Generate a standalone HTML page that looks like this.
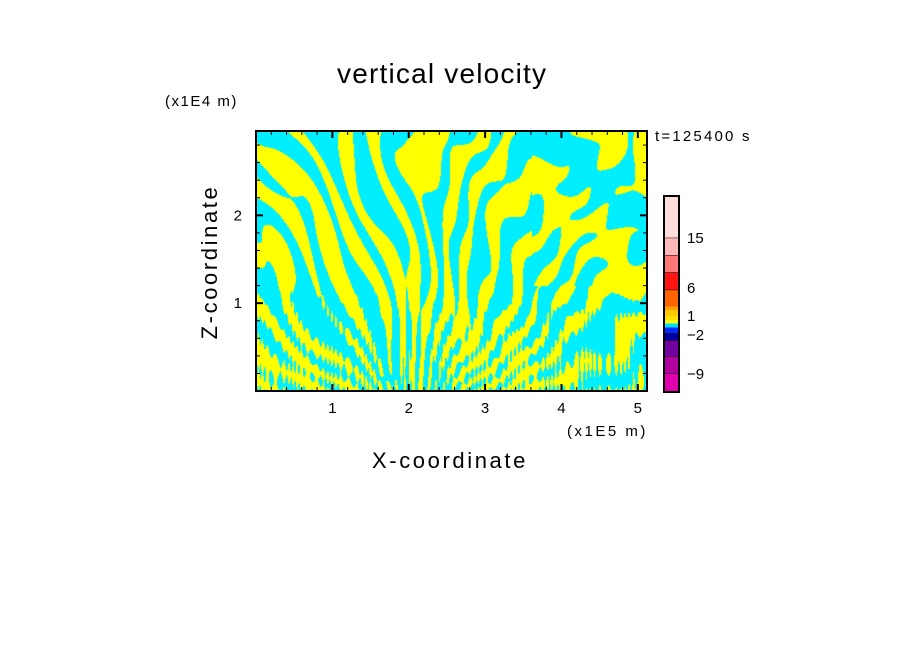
<!DOCTYPE html>
<html><head><meta charset="utf-8">
<style>
body{margin:0;background:#fff;}
#wrap{position:relative;width:904px;height:654px;overflow:hidden;background:#fff;font-family:"Liberation Sans",sans-serif;}
.t{position:absolute;white-space:nowrap;color:#000;}
</style></head>
<body>
<div id="wrap">
<div class="t" style="left:337px;top:58px;font-size:28px;letter-spacing:1.2px;">vertical velocity</div>
<div class="t" style="left:165px;top:93px;font-size:15px;letter-spacing:1.5px;">(x1E4 m)</div>
<div class="t" style="left:567px;top:423px;font-size:15px;letter-spacing:2.5px;">(x1E5 m)</div>
<div class="t" style="left:372px;top:448px;font-size:22px;letter-spacing:2.6px;">X-coordinate</div>
<div class="t" style="left:210px;top:262px;font-size:22px;letter-spacing:2.6px;transform:translate(-50%,-50%) rotate(-90deg);">Z-coordinate</div>
<div class="t" style="left:655px;top:128px;font-size:15px;letter-spacing:2.2px;">t=125400 s</div>
<canvas id="cv" width="390" height="260" style="position:absolute;left:257px;top:131px;"></canvas>
<svg id="sv" width="904" height="654" style="position:absolute;left:0;top:0;"></svg>
</div>
<script>
const xTicks=[1,2,3,4,5];
const zTicks=[1,2];
const levelColors=["#e000b0","#b000a0","#7000a0","#0000a0","#0028ff","#00e0ff","#ffff00","#ffe000","#ffc800","#ffa000","#ff6400","#ff1414","#ff7878","#ffb8b8","#ffdddd"];
const levelBounds=[0,18.7,36,52,58.7,64.7,68.7,72,75.3,82,85.3,102.3,119.7,137,154.3,196];
const cbLabels=["15","6","1","\u22122","\u22129"];
const cbLabelY=[238,288,316,335,374];
const xMax=5.12, zMax=2.96;
const L=256,R=647,T=131,B=391;
const sx=v=>L+(v/xMax)*(R-L);
const sz=v=>B-(v/zMax)*(B-T);
const NS="http://www.w3.org/2000/svg";
const sv=document.getElementById('sv');
function mk(tag,attrs){const e=document.createElementNS(NS,tag);for(const k in attrs)e.setAttribute(k,attrs[k]);sv.appendChild(e);return e;}
// field
const cv=document.getElementById('cv');const ctx=cv.getContext('2d');
const W=cv.width,H=cv.height;const img=ctx.createImageData(W,H);
for(let j=0;j<H;j++){for(let i=0;i<W;i++){
 const x=i/W*xMax, z=(H-j)/H*zMax;
 const dx=x-2.15, dz=z+0.6;
 let a=Math.atan2(dx,dz);
 let ph=a*45+Math.sin(z*2.3+x*1.1)*2.5+Math.sin(x*3.7-z*1.7)*1.5+Math.sin(x*7.3+z*5.1)*0.9;
 let v=Math.sin(ph)+0.6*Math.sin(x*11+z*4.2)*Math.sin(z*3+x*2)+0.45*Math.sin(x*2.1+z*3.3);
 if(z<1.2) v+=0.9*Math.sin(x*85+Math.sin(x*13)*3)*(1.2-z);
 if(x>3.6&&z>1.2) v+=0.8*Math.sin(x*4+z*5);
 const y=v>0;
 const k=(j*W+i)*4;
 img.data[k]=y?255:0;img.data[k+1]=y?255:238;img.data[k+2]=y?0:255;img.data[k+3]=255;
}}
ctx.putImageData(img,0,0);
// frame
let r=mk('rect',{x:L,y:T,width:R-L,height:B-T,fill:'none',stroke:'#000','stroke-width':2});

for(let v=0.2;v<xMax;v+=0.2){const X=sx(v);const maj=Math.abs(v-Math.round(v))<0.01;const len=maj?7:4;
 mk('line',{x1:X,y1:B,x2:X,y2:B-len,stroke:'#000','stroke-width':maj?2:1});
 mk('line',{x1:X,y1:T,x2:X,y2:T+len,stroke:'#000','stroke-width':maj?2:1});}
for(let v=0.2;v<zMax;v+=0.2){const Y=sz(v);const maj=Math.abs(v-Math.round(v))<0.01;const len=maj?7:4;
 mk('line',{x1:L,y1:Y,x2:L+len,y2:Y,stroke:'#000','stroke-width':maj?2:1});
 mk('line',{x1:R,y1:Y,x2:R-len,y2:Y,stroke:'#000','stroke-width':maj?2:1});}
xTicks.forEach(v=>{const t=mk('text',{x:sx(v),y:B+22,'text-anchor':'middle','font-size':15,'font-family':'Liberation Sans, sans-serif'});t.textContent=v;
});
zTicks.forEach(v=>{const t=mk('text',{x:L-14,y:sz(v)+5,'text-anchor':'end','font-size':15,'font-family':'Liberation Sans, sans-serif'});t.textContent=v;
});
// colorbar
const cbT=196,cbB=392,cbL=664,cbW=15;
for(let i=0;i<levelColors.length;i++){
 const y1=cbB-levelBounds[i+1], y0=cbB-levelBounds[i];
 const s=mk('rect',{x:cbL,y:y1,width:cbW,height:y0-y1,fill:levelColors[i]});
 
 if(i>=10||i<=3) mk('line',{x1:cbL,y1:y1,x2:cbL+cbW,y2:y1,stroke:'#000','stroke-width':1});
}
const cf=mk('rect',{x:cbL,y:cbT,width:cbW,height:cbB-cbT,fill:'none',stroke:'#000','stroke-width':2});

cbLabels.forEach((s,i)=>{const t=mk('text',{x:687,y:cbLabelY[i]+5,'font-size':15,'font-family':'Liberation Sans, sans-serif'});t.textContent=s;
});
</script>
</body></html>
